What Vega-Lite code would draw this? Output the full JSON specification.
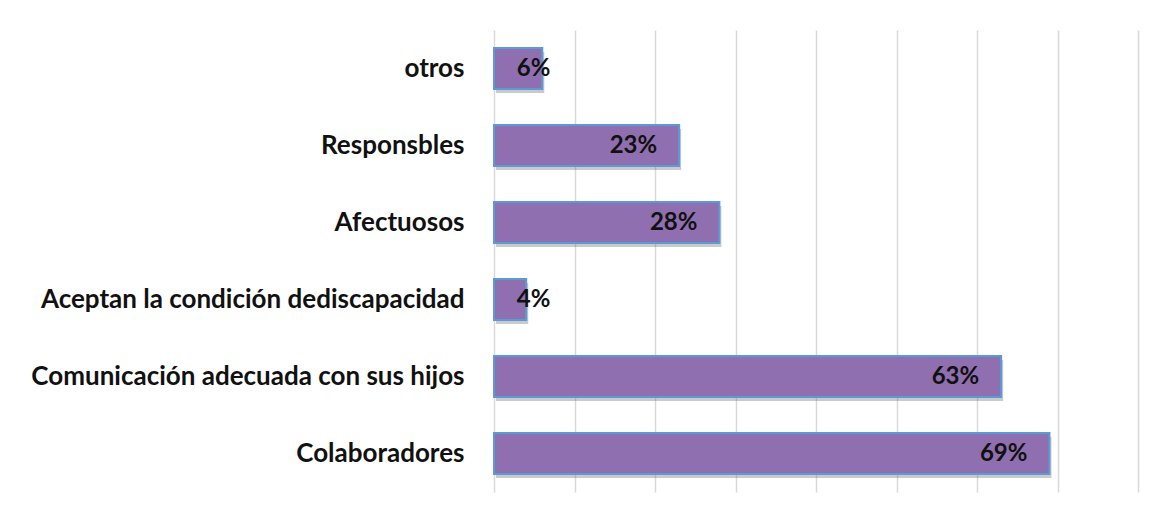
{
  "$schema": "https://vega.github.io/schema/vega-lite/v6.json",
  "autosize": "none",
  "width": 644,
  "height": 462,
  "padding": {"left": 494, "top": 30, "right": 28, "bottom": 14},
  "background": "white",
  "config": {"view": {"stroke": null}},
  "data": {"values": [
    {"cat": "otros", "value": 6, "label": "6%"},
    {"cat": "Responsbles", "value": 23, "label": "23%"},
    {"cat": "Afectuosos", "value": 28, "label": "28%"},
    {"cat": "Aceptan la condición dediscapacidad", "value": 4, "label": "4%"},
    {"cat": "Comunicación adecuada con sus hijos", "value": 63, "label": "63%"},
    {"cat": "Colaboradores", "value": 69, "label": "69%"}
  ]},
  "encoding": {
    "y": {"field": "cat", "type": "nominal", "sort": null,
      "scale": {"paddingInner": 0.47, "paddingOuter": 0.235},
      "axis": {"title": null, "domain": false, "ticks": false, "labelPadding": 30,
        "labelFont": "Lato", "labelFontWeight": "bold", "labelFontSize": 26, "labelColor": "#111111", "labelLimit": 600}}
  },
  "layer": [
    {
      "mark": {"type": "bar", "color": "#666666", "opacity": 0.35, "xOffset": 2, "yOffset": 4},
      "encoding": {
        "x": {"field": "value", "type": "quantitative", "scale": {"domain": [0, 80], "nice": false},
          "axis": {"title": null, "labels": false, "ticks": false, "domain": false, "values": [0,10,20,30,40,50,60,70,80],
            "gridColor": "#d9d9d9", "gridWidth": 1.5}}
      }
    },
    {
      "mark": {"type": "bar", "fill": "#8f6fb0", "stroke": "#5b9bd5", "strokeWidth": 2},
      "encoding": {
        "x": {"field": "value", "type": "quantitative"}
      }
    },
    {
      "transform": [{"filter": "datum.value >= 10"}],
      "mark": {"type": "text", "align": "right", "dx": -22, "font": "Lato", "fontWeight": "bold", "fontSize": 24, "color": "#111111"},
      "encoding": {
        "x": {"field": "value", "type": "quantitative"},
        "text": {"field": "label"}
      }
    },
    {
      "transform": [{"filter": "datum.value < 10"}],
      "mark": {"type": "text", "align": "right", "font": "Lato", "fontWeight": "bold", "fontSize": 24, "color": "#111111"},
      "encoding": {
        "x": {"datum": 7, "type": "quantitative"},
        "text": {"field": "label"}
      }
    }
  ]
}
